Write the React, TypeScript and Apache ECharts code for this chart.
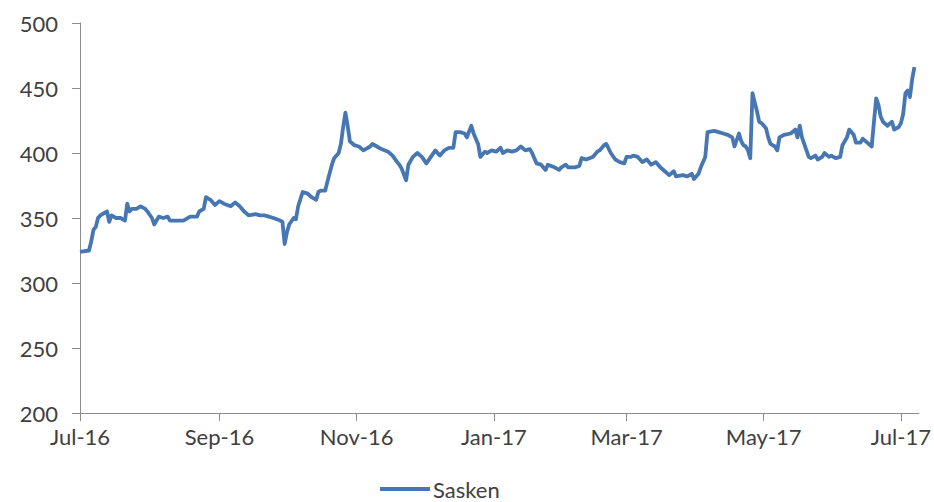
import React, { useEffect, useRef } from "react";
import * as echarts from "echarts";

const seriesName = "Sasken";

const dates = [
  "2016-07-01", "2016-07-05", "2016-07-06", "2016-07-07", "2016-07-08", "2016-07-09", "2016-07-10", "2016-07-13",
  "2016-07-14", "2016-07-15", "2016-07-17", "2016-07-19", "2016-07-21", "2016-07-22", "2016-07-23", "2016-07-24",
  "2016-07-26", "2016-07-28", "2016-07-30", "2016-07-31", "2016-08-02", "2016-08-03", "2016-08-05", "2016-08-07",
  "2016-08-09", "2016-08-10", "2016-08-13", "2016-08-16", "2016-08-19", "2016-08-22", "2016-08-23", "2016-08-25",
  "2016-08-26", "2016-08-28", "2016-08-30", "2016-09-01", "2016-09-03", "2016-09-06", "2016-09-08", "2016-09-10",
  "2016-09-12", "2016-09-14", "2016-09-17", "2016-09-19", "2016-09-21", "2016-09-23", "2016-09-25", "2016-09-28",
  "2016-09-29", "2016-09-30", "2016-10-01", "2016-10-02", "2016-10-04", "2016-10-05", "2016-10-06", "2016-10-08",
  "2016-10-10", "2016-10-12", "2016-10-14", "2016-10-15", "2016-10-16", "2016-10-18", "2016-10-19", "2016-10-21",
  "2016-10-22", "2016-10-24", "2016-10-25", "2016-10-26", "2016-10-27", "2016-10-28", "2016-10-29", "2016-10-31",
  "2016-11-02", "2016-11-04", "2016-11-07", "2016-11-08", "2016-11-10", "2016-11-12", "2016-11-15", "2016-11-17",
  "2016-11-19", "2016-11-20", "2016-11-21", "2016-11-23", "2016-11-24", "2016-11-26", "2016-11-28", "2016-11-30",
  "2016-12-02", "2016-12-04", "2016-12-06", "2016-12-08", "2016-12-10", "2016-12-12", "2016-12-14", "2016-12-15",
  "2016-12-17", "2016-12-19", "2016-12-20", "2016-12-22", "2016-12-23", "2016-12-25", "2016-12-26", "2016-12-28",
  "2016-12-29", "2016-12-31", "2017-01-02", "2017-01-04", "2017-01-05", "2017-01-07", "2017-01-09", "2017-01-11",
  "2017-01-13", "2017-01-15", "2017-01-17", "2017-01-18", "2017-01-20", "2017-01-22", "2017-01-24", "2017-01-25",
  "2017-01-28", "2017-01-30", "2017-01-31", "2017-02-02", "2017-02-03", "2017-02-06", "2017-02-08", "2017-02-09",
  "2017-02-11", "2017-02-14", "2017-02-16", "2017-02-17", "2017-02-19", "2017-02-20", "2017-02-22", "2017-02-24",
  "2017-02-26", "2017-02-28", "2017-03-01", "2017-03-03", "2017-03-04", "2017-03-06", "2017-03-08", "2017-03-10",
  "2017-03-12", "2017-03-14", "2017-03-16", "2017-03-18", "2017-03-20", "2017-03-22", "2017-03-23", "2017-03-26",
  "2017-03-28", "2017-03-30", "2017-03-31", "2017-04-02", "2017-04-03", "2017-04-05", "2017-04-06", "2017-04-09",
  "2017-04-11", "2017-04-13", "2017-04-15", "2017-04-17", "2017-04-18", "2017-04-20", "2017-04-21", "2017-04-22",
  "2017-04-23", "2017-04-24", "2017-04-25", "2017-04-26", "2017-04-28", "2017-04-29", "2017-04-30", "2017-05-02",
  "2017-05-03", "2017-05-04", "2017-05-06", "2017-05-07", "2017-05-08", "2017-05-10", "2017-05-13", "2017-05-15",
  "2017-05-16", "2017-05-17", "2017-05-18", "2017-05-20", "2017-05-21", "2017-05-22", "2017-05-24", "2017-05-25",
  "2017-05-27", "2017-05-28", "2017-05-30", "2017-05-31", "2017-06-02", "2017-06-04", "2017-06-05", "2017-06-07",
  "2017-06-08", "2017-06-10", "2017-06-11", "2017-06-13", "2017-06-14", "2017-06-16", "2017-06-18", "2017-06-19",
  "2017-06-20", "2017-06-21", "2017-06-22", "2017-06-23", "2017-06-25", "2017-06-27", "2017-06-28", "2017-06-30",
  "2017-07-01", "2017-07-02", "2017-07-03", "2017-07-04", "2017-07-05", "2017-07-06", "2017-07-07",
];

const prices = [
  324, 325, 332, 341, 343, 350, 352, 355,
  347, 352, 350, 350, 348, 361, 355, 357,
  357, 359, 357, 355, 350, 345, 351, 350,
  351, 348, 348, 348, 351, 351, 355, 357,
  366, 364, 360, 363, 361, 359, 362, 359,
  355, 352, 353, 352, 352, 351, 350, 348,
  347, 330, 339, 345, 350, 349, 359, 370,
  369, 366, 364, 370, 371, 371, 378, 391,
  396, 400, 407, 420, 431, 421, 409, 406,
  405, 402, 405, 407, 405, 403, 401, 398,
  393, 391, 388, 379, 391, 397, 400, 397,
  392, 397, 402, 398, 402, 404, 404, 416,
  416, 415, 412, 421, 415, 407, 397, 401,
  400, 402, 401, 404, 400, 402, 401, 402,
  405, 402, 403, 400, 392, 391, 387, 391,
  389, 387, 389, 391, 389, 389, 390, 396,
  395, 397, 401, 402, 406, 407, 400, 395,
  393, 392, 397, 397, 398, 397, 393, 395,
  391, 393, 389, 386, 383, 386, 382, 383,
  382, 384, 380, 384, 389, 397, 416, 417,
  416, 415, 414, 412, 405, 415, 409, 406,
  405, 402, 396, 446, 432, 424, 423, 419,
  412, 407, 405, 402, 412, 414, 415, 418,
  412, 421, 412, 402, 397, 396, 398, 395,
  397, 400, 397, 398, 396, 397, 406, 412,
  418, 414, 408, 408, 411, 408, 405, 424,
  442, 437, 428, 424, 421, 424, 418, 420,
  423, 430, 446, 448, 443, 457, 466,
];

const tickDates = ["2016-07-01", "2016-09-01", "2016-11-01", "2017-01-01", "2017-03-01", "2017-05-01", "2017-07-01"];
const axisStart = "2016-07-01";
const axisEnd = "2017-07-09";
const yTicks = [200, 250, 300, 350, 400, 450, 500];
const monthNames = ["Jan", "Feb", "Mar", "Apr", "May", "Jun", "Jul", "Aug", "Sep", "Oct", "Nov", "Dec"];

function toTs(s: string): number {
  const [y, m, d] = s.split("-").map(Number);
  return new Date(y, m - 1, d).getTime();
}

export default function App() {
  const ref = useRef<HTMLDivElement>(null);

  useEffect(() => {
    if (!ref.current) return;
    const chart = echarts.init(ref.current, null, { renderer: "svg" });
    const font = "Lato";
    const labelColor = "#404040";
    const axisColor = "#8c8c8c";
    const lineColor = "#4677b3";
    const tickTs = tickDates.map(toTs);
    chart.setOption({
      animation: false,
      backgroundColor: "#ffffff",
      grid: { left: 80, right: 13, top: 23, bottom: 89, containLabel: false },
      legend: {
        data: [seriesName],
        left: 380,
        top: 478,
        padding: 0,
        icon: "rect",
        itemWidth: 50,
        itemHeight: 4,
        textStyle: { fontFamily: font, fontSize: 22, lineHeight: 22, color: labelColor, padding: [0, 0, 0, -2] },
      },
      xAxis: {
        type: "value",
        min: toTs(axisStart),
        max: toTs(axisEnd),
        splitLine: { show: false },
        axisLine: { show: true, lineStyle: { color: axisColor, width: 1 } },
        axisTick: { show: true, length: 8, customValues: tickTs, lineStyle: { color: axisColor } },
        axisLabel: {
          customValues: tickTs,
          margin: 12,
          fontFamily: font,
          fontSize: 22,
          color: labelColor,
          showMinLabel: true,
          showMaxLabel: true,
          formatter: (v: number) => {
            const d = new Date(v);
            return monthNames[d.getMonth()] + "-" + String(d.getFullYear()).slice(2);
          },
        },
      },
      yAxis: {
        type: "value",
        min: yTicks[0],
        max: yTicks[yTicks.length - 1],
        interval: 50,
        splitLine: { show: false },
        axisLine: { show: true, lineStyle: { color: axisColor, width: 1 } },
        axisTick: { show: true, length: 8, lineStyle: { color: axisColor } },
        axisLabel: { margin: 22, fontFamily: font, fontSize: 22, color: labelColor },
      },
      series: [
        {
          name: seriesName,
          type: "line",
          showSymbol: false,
          symbol: "none",
          data: dates.map((s, i) => [toTs(s), prices[i]]),
          lineStyle: { color: lineColor, width: 3.8, join: "round" },
          itemStyle: { color: lineColor },
        },
      ],
    });
    return () => chart.dispose();
  }, []);

  return (
    <div
      ref={ref}
      style={{ position: "fixed", left: 0, top: 0, width: 934, height: 502, background: "#fff" }}
    />
  );
}
